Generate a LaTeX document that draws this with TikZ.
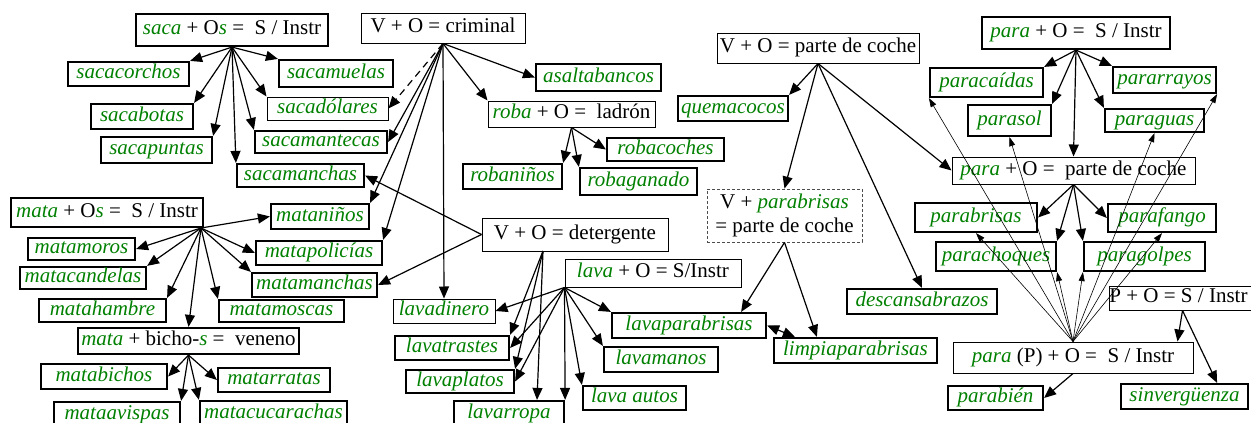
\documentclass[tikz,border=0pt]{standalone}
\usepackage{fontspec}
\setmainfont{Liberation Serif}
\usetikzlibrary{arrows.meta,calc}
\definecolor{wg}{RGB}{0,128,0}
\newcommand{\gw}[1]{\textcolor{wg}{\textit{#1}}}
\newcommand{\mkbox}[7]{\node[#6, minimum width={(#4-#2)*1pt}, minimum height={(#5-#3)*1pt}] (#1) at ({(#2+#4)/2},{(#3+#5)/2}) {#7};}
\begin{document}
\begin{tikzpicture}[x=1pt,y=-1pt,
  base/.style={inner sep=0pt, font=\fontsize{21}{24}\selectfont, text height=14pt, text depth=4.5pt},
  wd/.style={base, draw, line width=2.2pt, font=\fontsize{21}{24}\selectfont\itshape, text=wg},
  wdthin/.style={wd, line width=1pt},
  hd/.style={base, draw, line width=1pt},
  hdthick/.style={hd, line width=2.2pt},
  dbox/.style={inner sep=0pt, font=\fontsize{21}{24}\selectfont, draw=black!70, line width=0.9pt, dash pattern=on 3pt off 2pt, align=center},
  ar/.style={line width=1.2pt, -{Triangle[length=12pt,width=10pt]}},
  dar/.style={line width=1.2pt, {Triangle[length=12pt,width=10pt]}-{Triangle[length=12pt,width=10pt]}},
  tar/.style={line width=0.6pt, -{Triangle[length=9pt,width=6pt]}}
]
\useasboundingbox (0,0) rectangle (1251,423);
% saca group
\mkbox{saca}{136}{14}{328}{46}{hdthick}{\gw{saca} + O\gw{s} =\ \ S / Instr}
\mkbox{sacacorchos}{68}{62}{189}{86}{wd}{sacacorchos}
\mkbox{sacabotas}{91}{104}{193}{129}{wd}{sacabotas}
\mkbox{sacapuntas}{101}{137}{212}{163}{wd}{sacapuntas}
\mkbox{sacamanchas}{237}{164}{364}{187}{wd}{sacamanchas}
\mkbox{sacamuelas}{279}{60}{393}{87}{wd}{sacamuelas}
\mkbox{sacadolares}{267}{97}{388}{120}{wdthin}{sacadólares}
\mkbox{sacamantecas}{255}{131}{387}{153}{wd}{sacamantecas}
% criminal group
\mkbox{criminal}{361}{13}{525}{43}{hd}{V + O = criminal}
\mkbox{asaltabancos}{536}{64}{661}{91}{wd}{asaltabancos}
\mkbox{roba}{488}{101}{655}{127}{hd}{\gw{roba} + O =\ \ ladrón}
\mkbox{robaninos}{463}{164}{562}{189}{wd}{robaniños}
\mkbox{robacoches}{607}{138}{724}{161}{wd}{robacoches}
\mkbox{robaganado}{580}{168}{697}{195}{wd}{robaganado}
% mata group
\mkbox{mata}{11}{198}{203}{227}{hdthick}{\gw{mata} + O\gw{s} =\ \ S / Instr}
\mkbox{mataninos}{271}{204}{369}{229}{wd}{mataniños}
\mkbox{matamoros}{28}{238}{135}{260}{wd}{matamoros}
\mkbox{matapolicias}{256}{241}{382}{265}{wd}{matapolicías}
\mkbox{matacandelas}{20}{267}{146}{289}{wd}{matacandelas}
\mkbox{matamanchas}{252}{273}{377}{297}{wd}{matamanchas}
\mkbox{matahambre}{39}{299}{166}{322}{wd}{matahambre}
\mkbox{matamoscas}{219}{300}{344}{322}{wd}{matamoscas}
\mkbox{bicho}{78}{328}{299}{354}{hdthick}{\gw{mata} + bicho-\gw{s} =\ \ veneno}
\mkbox{matabichos}{41}{364}{167}{389}{wd}{matabichos}
\mkbox{matarratas}{218}{368}{330}{392}{wd}{matarratas}
\mkbox{mataavispas}{54}{402}{180}{428}{wd}{mataavispas}
\mkbox{matacucarachas}{200}{401}{347}{427}{wd}{matacucarachas}
% lava group
\mkbox{detergente}{482}{218}{668}{251}{hd}{V + O = detergente}
\mkbox{lava}{565}{259}{741}{287}{hd}{\gw{lava} + O = S/Instr}
\mkbox{lavadinero}{393}{299}{495}{323}{wdthin}{lavadinero}
\mkbox{lavatrastes}{395}{336}{509}{360}{wd}{lavatrastes}
\mkbox{lavaplatos}{406}{370}{514}{393}{wd}{lavaplatos}
\mkbox{lavarropa}{454}{401}{564}{427}{wd}{lavarropa}
\mkbox{lavapb}{612}{313}{766}{338}{wd}{lavaparabrisas}
\mkbox{lavamanos}{604}{347}{718}{372}{wd}{lavamanos}
\mkbox{lavaautos}{583}{386}{686}{410}{wd}{lava autos}
\mkbox{limpia}{774}{338}{937}{363}{wd}{limpiaparabrisas}
% parte de coche group
\mkbox{partecoche}{717}{33}{919}{63}{hd}{V + O = parte de coche}
\mkbox{quemacocos}{678}{96}{788}{121}{wd}{quemacocos}
\mkbox{vpb}{707}{189}{862}{242}{dbox}{V + \gw{parabrisas}\\= parte de coche}
\mkbox{descansa}{847}{289}{997}{314}{wd}{descansabrazos}
% para group
\mkbox{paraSI}{982}{17}{1170}{49}{hdthick}{\gw{para} + O =\ \ S / Instr}
\mkbox{paracaidas}{930}{68}{1043}{97}{wd}{paracaídas}
\mkbox{parasol}{968}{105}{1051}{136}{wd}{parasol}
\mkbox{pararrayos}{1113}{67}{1216}{93}{wd}{pararrayos}
\mkbox{paraguas}{1105}{109}{1204}{132}{wd}{paraguas}
\mkbox{paraPC}{952}{157}{1195}{184}{hd}{\gw{para} + O =\ \ parte de coche}
\mkbox{parabrisas}{915}{203}{1037}{232}{wd}{parabrisas}
\mkbox{parafango}{1108}{204}{1216}{232}{wd}{parafango}
\mkbox{parachoques}{936}{242}{1056}{271}{wd}{parachoques}
\mkbox{paragolpes}{1084}{242}{1205}{271}{wd}{paragolpes}
\mkbox{PO}{1109}{286}{1256}{310}{hd}{\hspace*{-8pt}P + O = S / Instr}
\mkbox{paraP}{953}{342}{1193}{373}{hd}{\gw{para} (P) + O =\ \ S / Instr}
\mkbox{parabien}{948}{386}{1043}{410}{wd}{parabién}
\mkbox{sinverg}{1121}{384}{1248}{409}{wd}{sinvergüenza}
% origins
\coordinate (mataO) at (201,228);
\coordinate (detO) at (543,251);
% saca arrows
\foreach \t/\a in {sacacorchos/north east, sacabotas/north east, sacapuntas/north east, sacamanchas/north west, sacamantecas/north west, sacadolares/north west, sacamuelas/north west}
  \draw[ar] (saca.south) -- (\t.\a);
% criminal arrows
\draw[ar, dash pattern=on 7pt off 5pt] (criminal.south) -- (sacadolares.east);
\foreach \t/\a in {sacamantecas/east, mataninos/north east, matapolicias/north east, lavadinero/north, asaltabancos/west, roba/north west}
  \draw[ar] (criminal.south) -- (\t.\a);
% roba arrows
\foreach \t/\a in {robaninos/north east, robaganado/north west, robacoches/west}
  \draw[ar] (roba.south) -- (\t.\a);
% mata arrows
\foreach \t/\a in {mataninos/west, matapolicias/west, matamanchas/north west, matamoscas/north west, bicho/north, matahambre/north east, matacandelas/north east, matamoros/east}
  \draw[ar] (mataO) -- (\t.\a);
% bicho arrows
\foreach \t/\a in {matabichos/east, mataavispas/north east, matacucarachas/north west, matarratas/west}
  \draw[ar] (bicho.south) -- (\t.\a);
% detergente arrows
\draw[ar] (detergente.west) -- (sacamanchas.east);
\draw[ar] (detergente.west) -- (matamanchas.east);
\draw[ar] (detO) -- (lavatrastes.north east);
\draw[ar] (detO) -- (lavaplatos.north east);
\draw[ar] (detO) -- ($(lavarropa.north)+(28,0)$);
% lava arrows
\foreach \t/\a in {lavadinero/east, lavatrastes/east, lavaplatos/east, lavarropa/north east, lavaautos/north west, lavamanos/north west, lavapb/north west}
  \draw[ar] (lava.south west) -- (\t.\a);
% V + parabrisas
\draw[ar] (vpb.south) -- ($(lavapb.north east)+(-26,0)$);
\draw[ar] (vpb.south) -- ($(limpia.north west)+(44,0)$);
\draw[dar] (lavapb.east) -- ($(limpia.north west)+(22,0)$);
% parte de coche arrows
\foreach \t/\a in {quemacocos/north east, vpb/north, descansa/north, paraPC/west}
  \draw[ar] (partecoche.south) -- (\t.\a);
% para S/Instr arrows
\foreach \t/\a in {paracaidas/north east, parasol/north east, paraPC/north, paraguas/north west, pararrayos/north west}
  \draw[ar] (paraSI.south) -- (\t.\a);
% para parte de coche arrows
\foreach \t/\a in {parabrisas/east, parachoques/north east, paragolpes/north west, parafango/west}
  \draw[ar] (paraPC.south) -- (\t.\a);
% para (P) thin arrows
\foreach \t/\a in {paracaidas/south west, parasol/south, parabrisas/south, parachoques/south east, paragolpes/south west, paraguas/south, parafango/south, pararrayos/south east}
  \draw[tar] (paraP.north) -- (\t.\a);
% P + O arrows
\draw[ar] (PO.south) -- ($(paraP.north east)+(-16,0)$);
\draw[ar] (PO.south) -- ($(sinverg.north east)+(-32,0)$);
\draw[ar] (paraP.south) -- (parabien.east);
\end{tikzpicture}
\end{document}
